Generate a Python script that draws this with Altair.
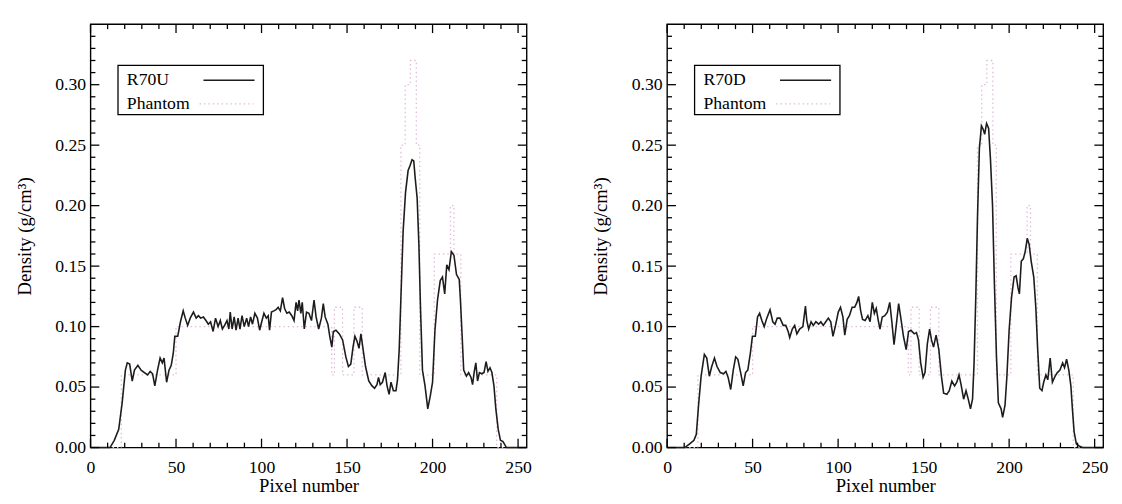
import altair as alt
import pandas as pd

# ---------------- data ----------------
PIXEL_U = [0, 11.4, 13.9, 16.5, 18.5, 20.4, 21.5, 22.9, 24.4, 25.7, 27.7, 29.6, 31.5, 33.4, 34.9, 36.3, 37.6,
           39.2, 40.7, 42.0, 43.0, 44.5, 45.9, 47.2, 48.4, 49.3, 51.0, 52.6, 54.2, 55.4, 56.8, 58.3, 60.2,
           61.8, 63.1, 64.4, 66.0, 67.5, 68.9, 70.2, 71.7, 73.1, 74.6, 75.9, 77.1, 78.4, 79.8, 80.9, 81.7,
           82.8, 84.0, 85.1, 86.3, 87.4, 88.6, 89.9, 91.3, 92.4, 93.6, 94.7, 96.1, 97.6, 98.9, 100.1, 101.4,
           102.8, 103.9, 104.7, 105.8, 107.2, 108.5, 109.7, 111.0, 112.3, 113.5, 114.8, 116.2, 117.7, 119.0,
           120.2, 121.1, 121.9, 123.0, 123.8, 125.0, 126.3, 127.7, 129.2, 130.7, 131.9, 133.4, 135.0, 136.1,
           137.2, 138.8, 139.9, 141.1, 142.0, 143.5, 145.5, 147.4, 149.3, 150.8, 152.2, 153.5, 154.6, 155.8,
           157.0, 158.1, 159.2, 160.8, 162.7, 164.6, 166.1, 167.5, 168.4, 169.4, 170.7, 172.3, 173.4, 174.6,
           175.7, 177.1, 178.6, 179.5, 180.5, 181.5, 182.8, 184.2, 185.7, 186.8, 188.0, 189.0, 189.9, 191.0,
           192.0, 193.0, 194.1, 195.6, 197.2, 198.7, 200.0, 201.4, 202.9, 204.5, 205.8, 207.1, 208.3, 209.6,
           211.0, 212.5, 214.0, 215.6, 216.3, 217.3, 218.2, 219.8, 221.1, 222.5, 223.4, 224.4, 225.3, 226.3,
           227.4, 228.8, 230.1, 231.3, 232.4, 233.6, 234.7, 235.9, 237.0, 238.4, 239.7, 241.2, 243.2, 255]
DENS_U = [0, 0, 0.006, 0.015, 0.037, 0.064, 0.070, 0.069, 0.055, 0.064, 0.068, 0.064, 0.062, 0.060, 0.063, 0.061, 0.051,
          0.064, 0.074, 0.070, 0.074, 0.054, 0.064, 0.068, 0.078, 0.092, 0.092, 0.104, 0.113, 0.107, 0.101, 0.107, 0.112,
          0.107, 0.109, 0.107, 0.108, 0.105, 0.102, 0.104, 0.096, 0.107, 0.100, 0.105, 0.098, 0.101, 0.105, 0.098, 0.112,
          0.098, 0.108, 0.097, 0.107, 0.098, 0.109, 0.100, 0.107, 0.100, 0.108, 0.102, 0.111, 0.107, 0.097, 0.104, 0.111,
          0.107, 0.109, 0.097, 0.112, 0.113, 0.114, 0.116, 0.113, 0.124, 0.115, 0.111, 0.112, 0.109, 0.105,
          0.120, 0.113, 0.122, 0.111, 0.120, 0.098, 0.112, 0.111, 0.105, 0.122, 0.108, 0.098, 0.107, 0.119,
          0.108, 0.102, 0.092, 0.083, 0.096, 0.097, 0.094, 0.089, 0.075, 0.067, 0.069, 0.083, 0.092, 0.088,
          0.082, 0.094, 0.083, 0.067, 0.055, 0.051, 0.049, 0.052, 0.058, 0.052, 0.054, 0.062, 0.051, 0.044,
          0.054, 0.047, 0.047, 0.056, 0.081, 0.124, 0.179, 0.211, 0.229, 0.233, 0.238, 0.237, 0.222, 0.206,
          0.168, 0.113, 0.064, 0.051, 0.032, 0.043, 0.054, 0.097, 0.122, 0.138, 0.141, 0.127, 0.151, 0.147,
          0.162, 0.159, 0.143, 0.139, 0.122, 0.092, 0.064, 0.059, 0.062, 0.058, 0.052, 0.063, 0.070, 0.055,
          0.062, 0.061, 0.062, 0.071, 0.063, 0.066, 0.062, 0.051, 0.032, 0.015, 0.006, 0.005, 0, 0]

PIXEL_D = [0, 10.3, 13.2, 15.7, 17.1, 18.4, 19.9, 21.8, 23.2, 24.7, 26.1, 27.7, 29.2, 31.1, 33.0, 34.4, 35.7,
           37.2, 38.7, 40.1, 41.4, 43.0, 44.5, 45.9, 47.2, 48.7, 49.9, 51.6, 52.9, 54.1, 55.4, 56.8, 58.3,
           60.2, 61.8, 63.1, 64.4, 66.0, 67.9, 69.4, 70.8, 71.7, 73.2, 74.6, 75.9, 77.5, 79.4, 80.9, 81.7,
           82.8, 84.2, 85.5, 87.0, 88.6, 89.9, 91.3, 92.8, 94.3, 95.7, 97.0, 98.5, 100.1, 101.4, 102.8, 103.9,
           105.3, 106.6, 108.2, 109.7, 111.0, 112.0, 113.2, 114.3, 115.8, 117.4, 118.7, 120.0, 121.2, 122.3,
           123.5, 124.5, 125.8, 127.3, 128.8, 130.2, 131.5, 132.7, 134.0, 135.4, 136.9, 138.2, 139.8, 141.2,
           142.6, 144.5, 145.8, 147.0, 148.3, 149.7, 150.8, 152.2, 153.5, 154.6, 155.8, 157.3, 158.9, 160.4,
           161.7, 163.6, 165.0, 166.5, 168.1, 169.4, 170.7, 171.9, 173.4, 174.8, 176.1, 177.4, 178.6, 179.5,
           180.5, 181.5, 182.6, 183.8, 184.9, 185.7, 186.8, 188.0, 189.1, 190.3, 191.4, 192.6, 193.7, 195.3,
           196.2, 197.6, 198.7, 200.0, 201.4, 202.9, 204.1, 205.2, 206.0, 207.1, 208.3, 209.4, 210.6, 211.7,
           212.9, 214.4, 215.6, 216.7, 217.9, 219.2, 220.2, 221.5, 222.6, 224.0, 225.3, 226.9, 228.2, 229.7,
           231.3, 232.4, 233.6, 234.9, 236.1, 237.0, 238.0, 239.3, 241.2, 243.0, 255]
DENS_D = [0, 0, 0.003, 0.006, 0.011, 0.035, 0.059, 0.077, 0.074, 0.059, 0.067, 0.074, 0.067, 0.062, 0.061, 0.063, 0.058,
          0.048, 0.064, 0.075, 0.073, 0.062, 0.051, 0.062, 0.064, 0.078, 0.092, 0.092, 0.108, 0.111, 0.105, 0.100, 0.107,
          0.114, 0.104, 0.102, 0.107, 0.107, 0.101, 0.101, 0.096, 0.091, 0.098, 0.101, 0.094, 0.098, 0.100, 0.117, 0.105,
          0.098, 0.104, 0.101, 0.104, 0.102, 0.104, 0.101, 0.104, 0.107, 0.104, 0.092, 0.101, 0.112, 0.116, 0.108, 0.093,
          0.106, 0.109, 0.116, 0.116, 0.120, 0.125, 0.113, 0.106, 0.105, 0.109, 0.104, 0.120, 0.111, 0.115,
          0.105, 0.098, 0.108, 0.109, 0.112, 0.120, 0.103, 0.085, 0.101, 0.119, 0.105, 0.092, 0.081, 0.096,
          0.097, 0.094, 0.095, 0.089, 0.070, 0.058, 0.062, 0.086, 0.098, 0.089, 0.083, 0.093, 0.081, 0.059,
          0.045, 0.044, 0.047, 0.055, 0.051, 0.054, 0.060, 0.052, 0.040, 0.047, 0.040, 0.032, 0.040, 0.070,
          0.124, 0.190, 0.247, 0.266, 0.263, 0.259, 0.268, 0.264, 0.238, 0.200, 0.135, 0.075, 0.037, 0.032,
          0.025, 0.035, 0.059, 0.097, 0.124, 0.141, 0.142, 0.132, 0.127, 0.154, 0.156, 0.162, 0.173, 0.168,
          0.154, 0.141, 0.116, 0.081, 0.049, 0.047, 0.054, 0.060, 0.056, 0.074, 0.054, 0.059, 0.062, 0.064,
          0.070, 0.066, 0.073, 0.064, 0.051, 0.032, 0.013, 0.003, 0.001, 0, 0]

PH_X = [0, 18, 18, 50, 50, 141, 141, 142.6, 142.6, 147.4, 147.4, 154, 154, 158.9, 158.9, 181.5, 181.5,
        184, 184, 187, 187, 190.5, 190.5, 192.5, 192.5, 201, 201, 210.5, 210.5, 212.5, 212.5, 216.5, 216.5,
        237.5, 237.5, 255]
PH_Y = [0, 0, 0.06, 0.06, 0.10, 0.10, 0.06, 0.06, 0.116, 0.116, 0.06, 0.06, 0.116, 0.116, 0.06, 0.06, 0.25,
        0.25, 0.30, 0.30, 0.32, 0.32, 0.25, 0.25, 0.06, 0.06, 0.16, 0.16, 0.20, 0.20, 0.16, 0.16, 0.06,
        0.06, 0, 0]

X_MAJOR = [0, 50, 100, 150, 200, 250]
X_MINOR = [10, 20, 30, 40, 60, 70, 80, 90, 110, 120, 130, 140, 160, 170, 180, 190, 210, 220, 230, 240]
Y_MAJOR = [0.0, 0.05, 0.10, 0.15, 0.20, 0.25, 0.30]
Y_MINOR = [0.01, 0.02, 0.03, 0.04, 0.06, 0.07, 0.08, 0.09, 0.11, 0.12, 0.13, 0.14, 0.16, 0.17, 0.18, 0.19,
           0.21, 0.22, 0.23, 0.24, 0.26, 0.27, 0.28, 0.29, 0.31, 0.32, 0.33, 0.34]

SERIES = ["R70U", "R70D"]
PHANTOM = "Phantom"
X_TITLE = "Pixel number"
Y_TITLE = "Density (g/cm³)"

# ---------------- styling ----------------
W, H = 444, 431
FONT = "Liberation Serif"
LINE_COLOR = "#1c1c1c"
PH_COLOR = "#e3b9da"
MAJ, MIN = 9, 5


def panel(xs, ys, name):
    xsc = alt.Scale(domain=[0, 255], nice=False, zero=False)
    ysc = alt.Scale(domain=[0, 0.35], nice=False, zero=False)
    xax = alt.Axis(values=X_MAJOR, title=X_TITLE, format="d", ticks=False, domain=False, grid=False,
                   labelPadding=11, titlePadding=1, labelFlush=False)
    yax = alt.Axis(values=Y_MAJOR, title=Y_TITLE, format=".2f", ticks=False, domain=False, grid=False,
                   labelPadding=5, titlePadding=21, labelFlush=False)

    ph = pd.DataFrame({"x": PH_X, "y": PH_Y, "i": list(range(len(PH_X)))})
    cv = pd.DataFrame({"x": xs, "y": ys})

    ph_layer = alt.Chart(ph).mark_line(color=PH_COLOR, strokeWidth=1.3, strokeDash=[1.5, 3]).encode(
        x=alt.X("x:Q", scale=xsc, axis=xax),
        y=alt.Y("y:Q", scale=ysc, axis=yax),
        order=alt.Order("i:Q"),
    )
    cv_layer = alt.Chart(cv).mark_line(color=LINE_COLOR, strokeWidth=1.6).encode(
        x=alt.X("x:Q"), y=alt.Y("y:Q")
    )

    xmaj = pd.DataFrame({"x": X_MAJOR})
    xmin = pd.DataFrame({"x": X_MINOR})
    ymaj = pd.DataFrame({"y": Y_MAJOR})
    ymin = pd.DataFrame({"y": Y_MINOR})

    tick_layers = []
    for df, ln in ((xmaj, MAJ), (xmin, MIN)):
        tick_layers.append(alt.Chart(df).mark_rule(color="black", strokeWidth=1.3).encode(
            x="x:Q", y=alt.value(H), y2=alt.value(H - ln)))
        tick_layers.append(alt.Chart(df).mark_rule(color="black", strokeWidth=1.3).encode(
            x="x:Q", y=alt.value(0), y2=alt.value(ln)))
    for df, ln in ((ymaj, MAJ), (ymin, MIN)):
        tick_layers.append(alt.Chart(df).mark_rule(color="black", strokeWidth=1.3).encode(
            y="y:Q", x=alt.value(0), x2=alt.value(ln)))
        tick_layers.append(alt.Chart(df).mark_rule(color="black", strokeWidth=1.3).encode(
            y="y:Q", x=alt.value(W), x2=alt.value(W - ln)))

    leg = pd.DataFrame({"label": [name]})
    legp = pd.DataFrame({"label": [PHANTOM]})
    box = alt.Chart(leg).mark_rect(fill="white", stroke="black", strokeWidth=1.3).encode(
        x=alt.value(28), x2=alt.value(176), y=alt.value(42), y2=alt.value(92))
    t1 = alt.Chart(leg).mark_text(align="left", baseline="alphabetic", font=FONT, fontSize=18,
                                  color="black").encode(
        x=alt.value(37), y=alt.value(62), text="label:N")
    t2 = alt.Chart(legp).mark_text(align="left", baseline="alphabetic", font=FONT, fontSize=18,
                                   color="black").encode(
        x=alt.value(37), y=alt.value(86), text="label:N")
    s1 = alt.Chart(leg).mark_rule(color=LINE_COLOR, strokeWidth=1.6).encode(
        x=alt.value(115), x2=alt.value(167), y=alt.value(57))
    s2 = alt.Chart(legp).mark_rule(color=PH_COLOR, strokeWidth=1.3, strokeDash=[1.5, 3]).encode(
        x=alt.value(111), x2=alt.value(166), y=alt.value(81))

    return alt.layer(ph_layer, cv_layer, *tick_layers, box, t1, t2, s1, s2).properties(width=W, height=H)


left = panel(PIXEL_U, DENS_U, SERIES[0])
right = panel(PIXEL_D, DENS_D, SERIES[1])

chart = alt.hconcat(left, right, spacing=59).properties(
    padding={"left": 6, "top": 10, "right": 5, "bottom": 5},
    background="white",
).configure_view(stroke="black", strokeWidth=1.4).configure_axis(
    labelFont=FONT, titleFont=FONT, labelFontSize=18, titleFontSize=19,
    labelColor="black", titleColor="black", titleFontWeight="normal",
)

chart.save("out.html", embed_options={"renderer": "svg", "actions": False})
